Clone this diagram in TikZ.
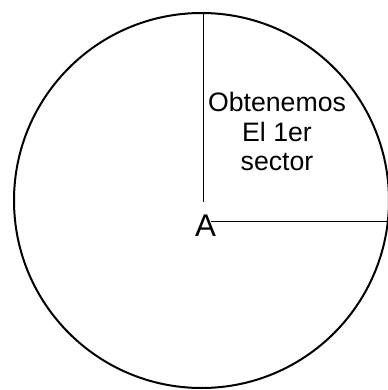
\documentclass[tikz,border=0pt]{standalone}
\usepackage{fontspec}
\setmainfont{Liberation Sans}
\begin{document}
\begin{tikzpicture}[x=0.75pt,y=-0.75pt,
  rim/.style={draw=black,line width=1.5pt},
  radius line/.style={draw=black,line width=0.75pt},
  label/.style={anchor=base,inner sep=0pt,font=\fontsize{20}{22}\selectfont},
  pointlabel/.style={anchor=base,inner sep=0pt,font=\fontsize{23.5}{26}\selectfont}]
\useasboundingbox (0,0) rectangle (387,390);
\coordinate (O) at (201.5,200.5);
\draw[rim] (O) circle[radius=187.5];
\coordinate (vtop) at (203,12.7);
\coordinate (vbot) at (203,202);
\coordinate (hl) at (211,221);
\coordinate (hr) at (388,221);
\draw[radius line] (vtop) -- (vbot);
\draw[radius line] (hl) -- (hr);
\node[label] (t1) at (277,111.7) {Obtenemos};
\node[label] (t2) at (277,141.5) {El 1er};
\node[label] (t3) at (277,170.5) {sector};
\node[pointlabel] (A) at (205.5,236.7) {A};
\end{tikzpicture}
\end{document}
